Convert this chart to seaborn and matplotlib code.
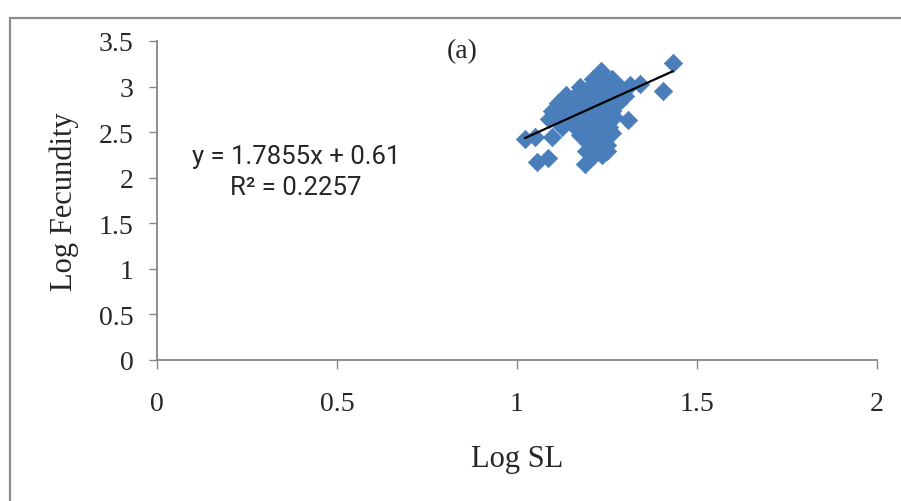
import matplotlib
matplotlib.use("Agg")
import matplotlib.pyplot as plt
from matplotlib.patches import Rectangle
import numpy as np
import pandas as pd
import seaborn as sns

# Log standard length vs log fecundity for individual fish
log_sl = [
    1.022, 1.050, 1.097, 1.056, 1.086, 1.189, 1.211, 1.250, 1.308, 1.342, 1.406, 1.433,
    1.233,
    1.211, 1.239, 1.264,
    1.175, 1.203, 1.231, 1.258, 1.286, 1.314,
    1.136, 1.164, 1.192, 1.219, 1.247, 1.275, 1.300,
    1.114, 1.142, 1.169, 1.197, 1.225, 1.253, 1.281,
    1.097, 1.125, 1.153, 1.181, 1.208, 1.236, 1.264,
    1.089, 1.119, 1.153, 1.186, 1.217, 1.247, 1.269,
    1.125, 1.161, 1.194, 1.225, 1.256,
    1.175, 1.208, 1.239, 1.264,
    1.197, 1.231, 1.250,
    1.192, 1.222, 1.236,
]
log_fecundity = [
    2.425, 2.447, 2.447, 2.172, 2.216, 2.151, 2.238, 2.293, 2.633, 3.028, 2.951, 3.259,
    3.171,
    3.083, 3.083, 3.083,
    2.995, 2.995, 2.995, 2.995, 2.995, 3.017,
    2.908, 2.908, 2.908, 2.908, 2.908, 2.908, 2.897,
    2.820, 2.820, 2.820, 2.820, 2.820, 2.820, 2.820,
    2.732, 2.732, 2.732, 2.732, 2.732, 2.732, 2.732,
    2.644, 2.644, 2.633, 2.644, 2.644, 2.644, 2.666,
    2.557, 2.557, 2.557, 2.557, 2.557,
    2.469, 2.469, 2.469, 2.491,
    2.381, 2.381, 2.359,
    2.293, 2.315, 2.249,
]

# Linear trendline reported on the chart
slope = 1.7855
intercept = 0.61
r_squared = 0.2257

x_ticks = [0, 0.5, 1, 1.5, 2]
y_ticks = [0, 0.5, 1, 1.5, 2, 2.5, 3, 3.5]

df = pd.DataFrame({"Log SL": log_sl, "Log Fecundity": log_fecundity})

sns.set_style("white")
plt.rcParams["font.family"] = ["Liberation Serif", "DejaVu Serif"]

fig = plt.figure(figsize=(9.01, 5.02), dpi=100)
ax = fig.add_axes([157 / 901, 1 - 361 / 502, 720 / 901, 319 / 502])

sns.scatterplot(data=df, x="Log SL", y="Log Fecundity", ax=ax, marker="D",
                s=88, color="#4A7EBB", edgecolor="#4A7EBB", linewidth=0.5,
                zorder=3, clip_on=False)

# Trendline spans the observed range of Log SL
tx = np.array([min(log_sl), max(log_sl)])
ax.plot(tx, slope * tx + intercept, color="black", lw=1.6, zorder=4)

ax.set_xlim(0, 2)
ax.set_ylim(0, 3.5)
ax.set_xticks(x_ticks)
ax.set_yticks(y_ticks)
ax.set_xticklabels([f"{v:g}" for v in x_ticks])
ax.set_yticklabels([f"{v:g}" for v in y_ticks])

spine_color = "#868686"
for side in ("top", "right"):
    ax.spines[side].set_visible(False)
for side in ("left", "bottom"):
    ax.spines[side].set_color(spine_color)
    ax.spines[side].set_linewidth(1.3)

ax.tick_params(axis="x", direction="out", length=6.5, width=1.0, color=spine_color,
               pad=16, labelsize=20, bottom=True)
ax.tick_params(axis="y", direction="out", length=6, width=1.0, color=spine_color,
               pad=11, labelsize=20, left=True)

ax.set_xlabel("Log SL", fontsize=22, labelpad=20)
ax.set_ylabel("Log Fecundity", fontsize=22, labelpad=14)

ax.text(0.847, 3.39, "(a)", fontsize=20, ha="center", va="center")

eq_font = ["Roboto", "DejaVu Sans"]
ax.text(0.386, 2.238, f"y = {slope}x + {intercept}", fontsize=18.5, ha="center",
        va="center", family=eq_font)
ax.text(0.386, 1.898, f"R\u00b2 = {r_squared}", fontsize=18.5, ha="center",
        va="center", family=eq_font)

# Outer chart-area frame
fig.patches.append(Rectangle((10 / 901, -0.1), 1.2, 1.1 - 19 / 502,
                             transform=fig.transFigure, fill=False,
                             edgecolor="#8c8c8c", linewidth=1.6))

fig.savefig("out.png", dpi=100)
